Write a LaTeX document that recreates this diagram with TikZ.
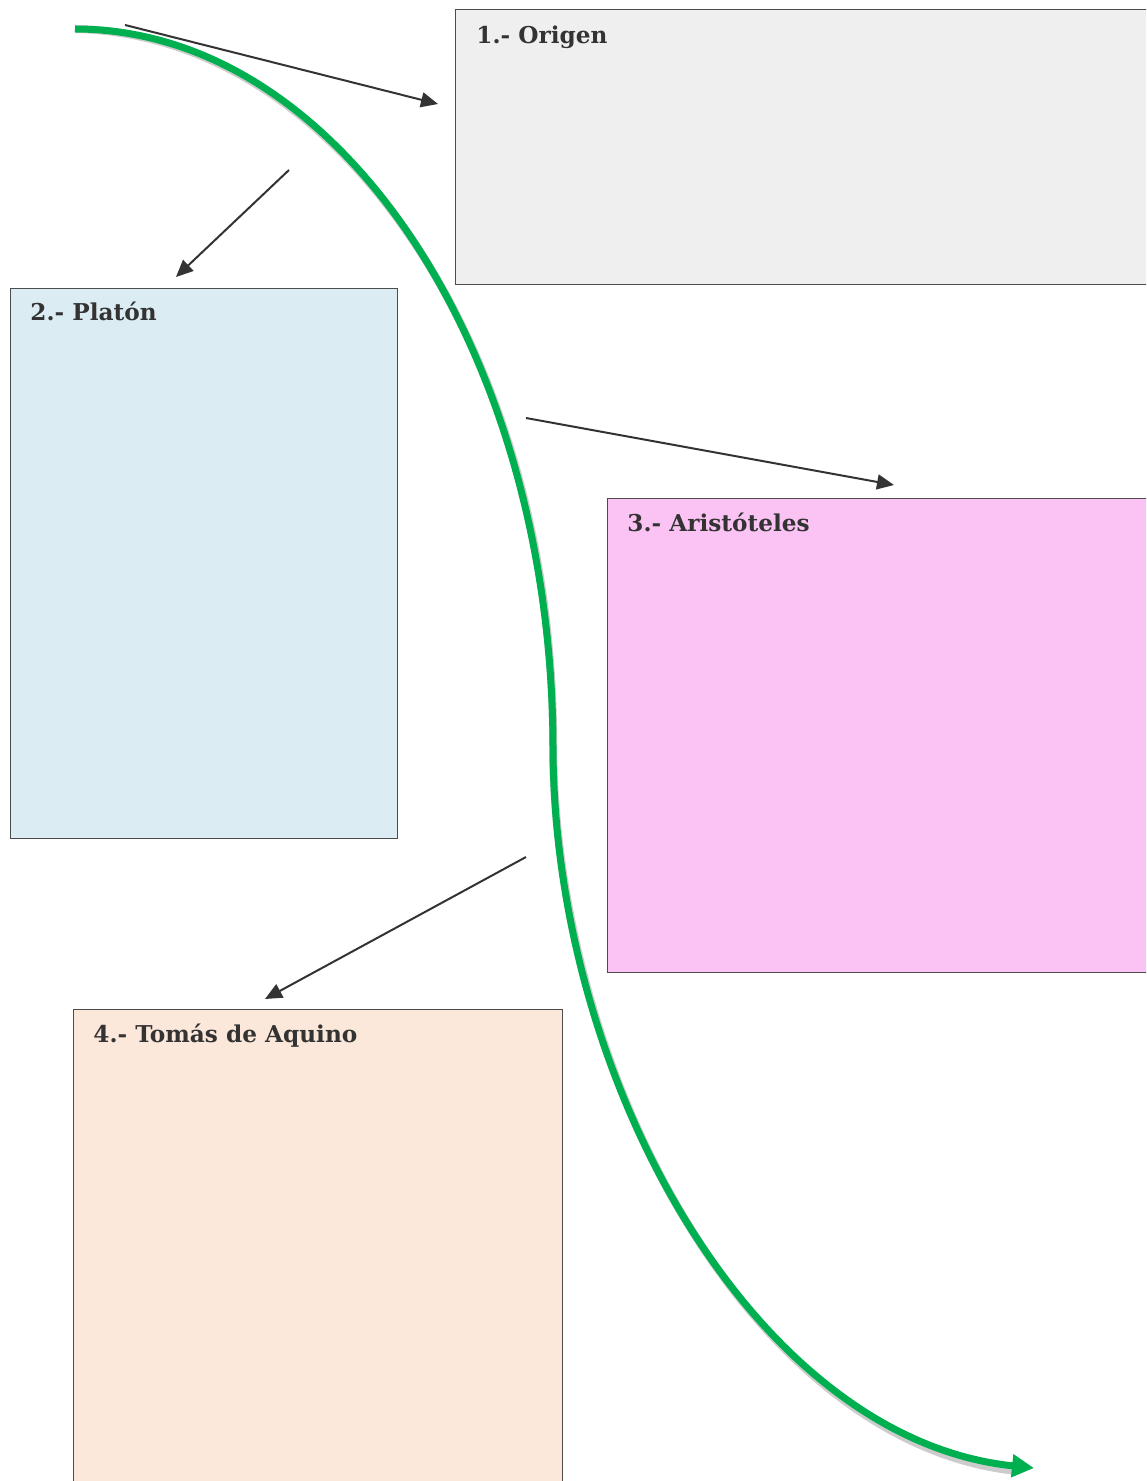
\documentclass[tikz,border=0pt]{standalone}
\usepackage{fontspec}
\setmainfont{DejaVu Serif}
\usepackage{tikz}
\usetikzlibrary{positioning, arrows.meta}

\definecolor{origen}{HTML}{EFEFEF}
\definecolor{platon}{HTML}{DBECF2}
\definecolor{aristoteles}{HTML}{FAC3F3}
\definecolor{aquino}{HTML}{FBE8DA}
\definecolor{time}{HTML}{00B050}
\definecolor{ink}{HTML}{333333}

\begin{document}
\begin{tikzpicture}[x=0.5pt, y=-0.5pt, >={Triangle[length=8.5pt,width=7.5pt]},
  box/.style={draw=black!70, line width=0.6pt, anchor=north west, inner sep=0pt},
  title/.style={inner sep=0pt, text=ink, font=\bfseries\fontsize{11.6}{14}\selectfont},
  link/.style={->, draw=ink, fill=ink, line width=1pt}]
  \clip (0,0) rectangle (1146,1481);

  \node[box, fill=origen, minimum width=352.5pt, minimum height=137.5pt] (1) at (455,9) {};
  \node[box, fill=platon, minimum width=193.5pt, minimum height=275pt] (2) at (10,288) {};
  \node[box, fill=aristoteles, minimum width=276.5pt, minimum height=237pt] (3) at (607,498) {};
  \node[box, fill=aquino, minimum width=244.5pt, minimum height=241pt] (4) at (73,1009) {};

  \node[title, below right=8pt and 10.5pt of 1.north west] (t1) {1.- Origen};
  \node[title, below right=7pt and 10pt of 2.north west] (t2) {2.- Platón};
  \node[title, below right=7.5pt and 10pt of 3.north west] (t3) {3.- Aristóteles};
  \node[title, below right=7.5pt and 10pt of 4.north west] (t4) {4.- Tomás de Aquino};

  \coordinate (a1) at (125,25);  \coordinate (b1) at (438,104);
  \coordinate (a2) at (289,170); \coordinate (b2) at (176,277);
  \coordinate (a3) at (526,418); \coordinate (b3) at (894,485);
  \coordinate (a4) at (526,857); \coordinate (b4) at (265,999);
  \foreach \i in {1,...,4}
    \draw[link] (a\i) -- (b\i);

  \coordinate (start) at (75,29);
  \coordinate (mid) at (553,750);
  \coordinate (end) at (1034,1468);
  \draw[black, opacity=0.2, line width=4pt, shift={(3,5)}]
    (start) .. controls (339,29) and (553,352) .. (mid)
    .. controls (555,1090) and (760,1440) .. (1014,1466);
  \draw[time, line width=3.5pt, -{Triangle[length=11pt,width=11pt]}]
    (start) .. controls (339,29) and (553,352) .. (mid)
    .. controls (555,1090) and (760,1440) .. (end);
\end{tikzpicture}
\end{document}
